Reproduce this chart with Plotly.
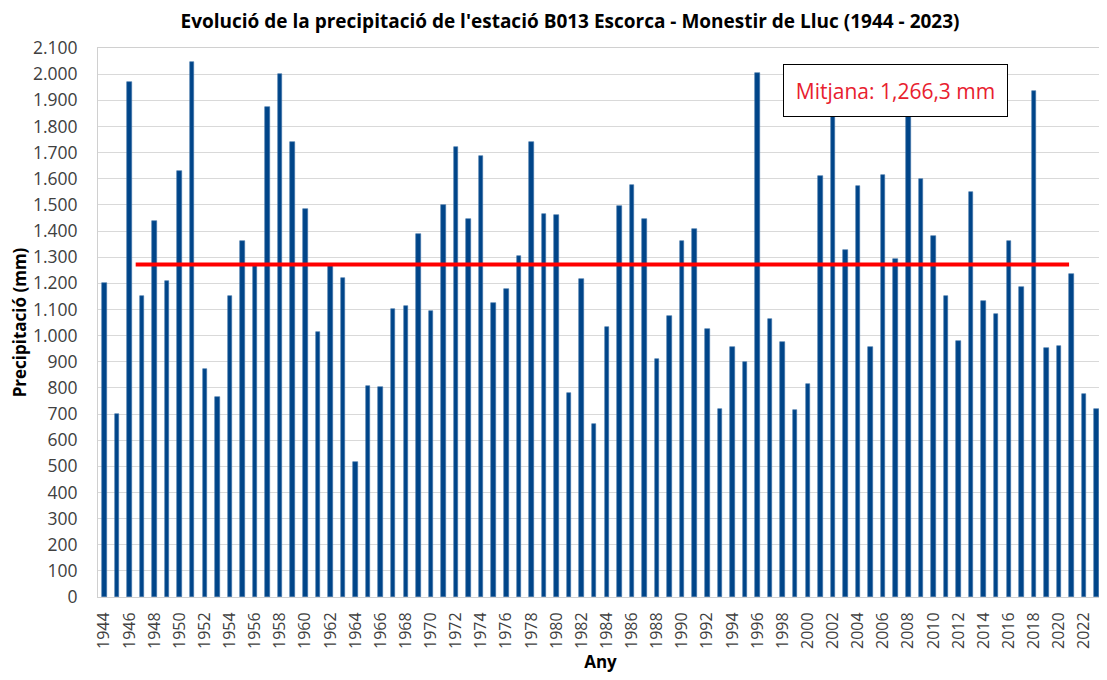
import plotly.graph_objects as go

years = list(range(1944, 2024))
precip = [
    1200, 700, 1970, 1150, 1440, 1210, 1630, 2045, 872, 765,
    1150, 1360, 1265, 1875, 2000, 1740, 1485, 1015, 1270, 1220,
    515, 807, 804, 1102, 1112, 1387, 1095, 1500, 1722, 1447,
    1688, 1125, 1177, 1304, 1739, 1464, 1460, 780, 1217, 662,
    1033, 1496, 1577, 1447, 912, 1074, 1362, 1407, 1024, 718,
    955, 898, 2004, 1065, 974, 715, 813, 1610, 1900, 1329,
    1574, 955, 1614, 1294, 1882, 1599, 1379, 1153, 979, 1549,
    1132, 1081, 1362, 1184, 1936, 953, 962, 1234, 777, 718,
]
mean_value = 1266.3
mean_line_x = [1946.5, 2020.8]
mean_label = "Mitjana: 1,266,3 mm"

y_ticks = list(range(0, 2101, 100))
y_tick_text = [f"{v:,}".replace(",", ".") for v in y_ticks]
x_ticks = list(range(1944, 2023, 2))

fig = go.Figure()
fig.add_trace(go.Bar(
    x=years, y=precip, width=0.36,
    marker=dict(color="#004589", line=dict(color="#3f72a8", width=0.6)),
    showlegend=False,
))
fig.add_trace(go.Scatter(
    x=mean_line_x, y=[mean_value + 6, mean_value + 6], mode="lines",
    line=dict(color="#ff0000", width=4), showlegend=False,
))

# page has an 8px body margin, so the figure is offset by 8px right/down
fig.update_layout(
    width=1107, height=680,
    margin=dict(l=90, r=12, t=40, b=91),
    paper_bgcolor="white", plot_bgcolor="white",
    font=dict(family="Open Sans", color="#404040"),
    title=dict(
        text="<b>Evolució de la precipitació de l'estació B013 Escorca - Monestir de Lluc (1944 - 2023)</b>",
        x=0.5077, xanchor="center", y=0.9805, yanchor="middle",
        font=dict(size=19, color="#000000", family="Open Sans"),
    ),
    bargap=0,
)
fig.update_xaxes(
    range=[1943.5, 2023.5], automargin=False,
    tickmode="array", tickvals=x_ticks, ticktext=[str(v) for v in x_ticks],
    tickangle=-90, tickfont=dict(size=16, color="#404040"),
    showgrid=False, zeroline=False,
    showline=True, linecolor="#d0d0d0", linewidth=1, mirror=True,
    ticklabelstandoff=8,
    title=dict(text="<b>Any</b>", font=dict(size=17, color="#000000"), standoff=8),
)
fig.update_yaxes(
    range=[0, 2100], automargin=False,
    tickmode="array", tickvals=y_ticks, ticktext=y_tick_text,
    tickfont=dict(size=17.5, color="#404040"),
    showgrid=True, gridcolor="#d9d9d9", gridwidth=1,
    zeroline=False,
    showline=True, linecolor="#d0d0d0", linewidth=1, mirror=True,
    ticklabelstandoff=16,
    title=dict(text="<b>Precipitació (mm)</b>", font=dict(size=17, color="#000000"), standoff=6),
)
fig.add_annotation(
    xref="paper", yref="paper", x=0.794, y=0.923,
    text=mean_label, showarrow=False,
    font=dict(size=21, color="#e8202e", family="Open Sans"),
    bgcolor="white", bordercolor="#000000", borderwidth=1,
    width=221, height=49, xanchor="center", yanchor="middle",
)

fig.write_html("out.html")
